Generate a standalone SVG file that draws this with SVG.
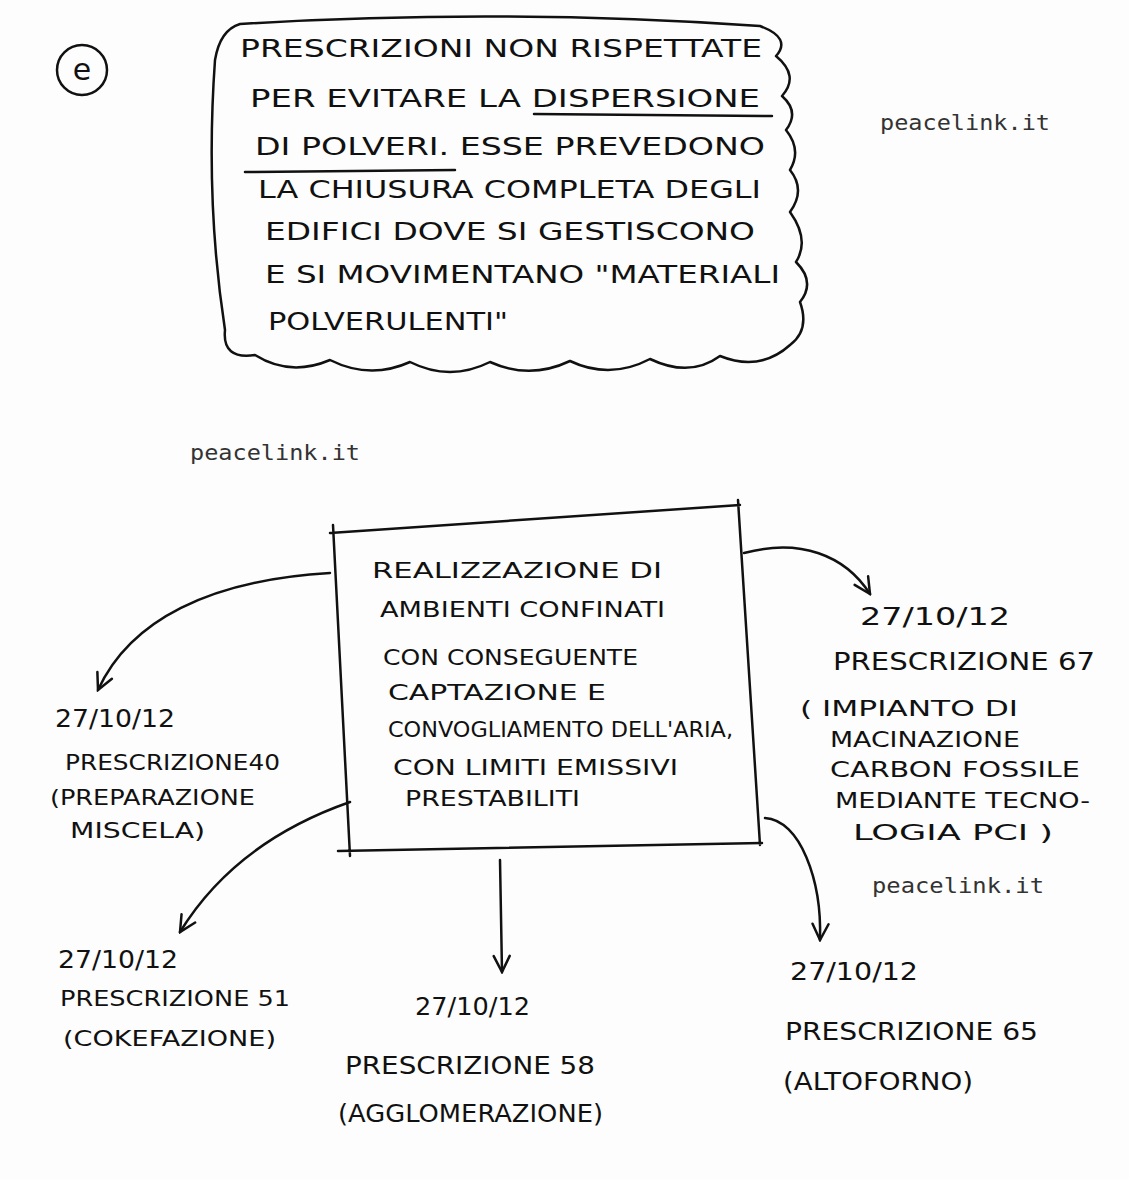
<svg xmlns="http://www.w3.org/2000/svg" width="1129" height="1179" viewBox="0 0 1129 1179">
<style>
.h{font-family:"DejaVu Sans","Liberation Sans",sans-serif;fill:#111;font-size:24px;}
.s{font-size:21px;}
.w{font-family:"DejaVu Sans Mono","Liberation Mono",monospace;font-size:21px;fill:#333;}
.ln{fill:none;stroke:#111;stroke-width:2.5;stroke-linecap:round;stroke-linejoin:round;}
</style>
<defs>
<marker id="v" viewBox="0 0 20 20" refX="18" refY="10" markerWidth="20" markerHeight="20" markerUnits="userSpaceOnUse" orient="auto">
<path d="M2,2 L18,10 L2,18" fill="none" stroke="#111" stroke-width="2.5" stroke-linecap="round"/>
</marker>
</defs>
<rect width="1129" height="1179" fill="#fdfdfd"/>
<g id="badge">
<circle cx="82" cy="70" r="25" class="ln"/>
<text x="82" y="80" text-anchor="middle" class="h" style="font-size:30px">e</text>
</g>
<g id="cloud">
<path class="ln" d="M240,24 Q500,8 760,26 Q792,38 776,56 Q800,76 782,96 Q800,112 786,130 Q802,150 790,170 Q806,190 790,212 Q810,240 796,262 Q816,282 800,302 Q810,330 790,345 Q760,372 720,356 Q690,378 650,359 Q610,380 570,361 Q530,380 490,362 Q450,382 410,362 Q370,380 330,360 Q290,377 255,355 Q222,360 225,330 Q205,200 215,60 Q220,30 240,24 Z"/>
<text class="h" x="240" y="57" textLength="522" lengthAdjust="spacingAndGlyphs">PRESCRIZIONI  NON  RISPETTATE</text>
<text class="h" x="250" y="107" textLength="510" lengthAdjust="spacingAndGlyphs">PER  EVITARE  LA  DISPERSIONE</text>
<text class="h" x="255" y="155" textLength="510" lengthAdjust="spacingAndGlyphs">DI  POLVERI.  ESSE  PREVEDONO</text>
<text class="h" x="258" y="198" textLength="503" lengthAdjust="spacingAndGlyphs">LA  CHIUSURA  COMPLETA  DEGLI</text>
<text class="h" x="265" y="240" textLength="490" lengthAdjust="spacingAndGlyphs">EDIFICI  DOVE  SI  GESTISCONO</text>
<text class="h" x="265" y="283" textLength="515" lengthAdjust="spacingAndGlyphs">E  SI  MOVIMENTANO "MATERIALI</text>
<text class="h" x="268" y="330" textLength="240" lengthAdjust="spacingAndGlyphs">POLVERULENTI"</text>
<path class="ln" d="M534,114 L772,116"/>
<path class="ln" d="M245,172 L455,170"/>
</g>
<text class="w" x="880" y="130" textLength="170" lengthAdjust="spacingAndGlyphs">peacelink.it</text>
<text class="w" x="190" y="460" textLength="170" lengthAdjust="spacingAndGlyphs">peacelink.it</text>
<text class="w" x="872" y="893" textLength="172" lengthAdjust="spacingAndGlyphs">peacelink.it</text>
<g id="center">
<path class="ln" d="M330,533 L740,505 M333,525 L350,856 M738,500 L760,845 M338,851 L762,843"/>
<text class="h s" x="372" y="578" textLength="290" lengthAdjust="spacingAndGlyphs">REALIZZAZIONE  DI</text>
<text class="h s" x="380" y="617" textLength="285" lengthAdjust="spacingAndGlyphs">AMBIENTI  CONFINATI</text>
<text class="h s" x="383" y="665" textLength="255" lengthAdjust="spacingAndGlyphs">CON CONSEGUENTE</text>
<text class="h s" x="388" y="700" textLength="218" lengthAdjust="spacingAndGlyphs">CAPTAZIONE  E</text>
<text class="h s" x="388" y="737" textLength="345" lengthAdjust="spacingAndGlyphs">CONVOGLIAMENTO DELL'ARIA,</text>
<text class="h s" x="393" y="775" textLength="285" lengthAdjust="spacingAndGlyphs">CON  LIMITI  EMISSIVI</text>
<text class="h s" x="405" y="806" textLength="175" lengthAdjust="spacingAndGlyphs">PRESTABILITI</text>
</g>
<g id="connectors">
<path class="ln" marker-end="url(#v)" d="M330,573 C210,580 130,620 98,690"/>
<path class="ln" marker-end="url(#v)" d="M350,802 C270,830 215,875 180,932"/>
<path class="ln" marker-end="url(#v)" d="M500,860 L502,972"/>
<path class="ln" marker-end="url(#v)" d="M744,553 C800,538 845,555 870,594"/>
<path class="ln" marker-end="url(#v)" d="M765,818 C800,820 822,880 820,940"/>
</g>
<g id="p40">
<text class="h" x="55" y="727" textLength="120" lengthAdjust="spacingAndGlyphs">27/10/12</text>
<text class="h s" x="65" y="770" textLength="215" lengthAdjust="spacingAndGlyphs">PRESCRIZIONE40</text>
<text class="h s" x="50" y="805" textLength="205" lengthAdjust="spacingAndGlyphs">(PREPARAZIONE</text>
<text class="h s" x="70" y="838" textLength="135" lengthAdjust="spacingAndGlyphs">MISCELA)</text>
</g>
<g id="p67">
<text class="h" x="860" y="625" textLength="150" lengthAdjust="spacingAndGlyphs">27/10/12</text>
<text class="h" x="833" y="670" textLength="262" lengthAdjust="spacingAndGlyphs">PRESCRIZIONE 67</text>
<text class="h s" x="800" y="716" textLength="218" lengthAdjust="spacingAndGlyphs">( IMPIANTO  DI</text>
<text class="h s" x="830" y="747" textLength="190" lengthAdjust="spacingAndGlyphs">MACINAZIONE</text>
<text class="h s" x="830" y="777" textLength="250" lengthAdjust="spacingAndGlyphs">CARBON  FOSSILE</text>
<text class="h s" x="835" y="808" textLength="255" lengthAdjust="spacingAndGlyphs">MEDIANTE  TECNO-</text>
<text class="h s" x="853" y="840" textLength="200" lengthAdjust="spacingAndGlyphs">LOGIA  PCI )</text>
</g>
<g id="p51">
<text class="h" x="58" y="968" textLength="120" lengthAdjust="spacingAndGlyphs">27/10/12</text>
<text class="h s" x="60" y="1006" textLength="230" lengthAdjust="spacingAndGlyphs">PRESCRIZIONE 51</text>
<text class="h s" x="63" y="1046" textLength="213" lengthAdjust="spacingAndGlyphs">(COKEFAZIONE)</text>
</g>
<g id="p58">
<text class="h" x="415" y="1015" textLength="115" lengthAdjust="spacingAndGlyphs">27/10/12</text>
<text class="h" x="345" y="1074" textLength="250" lengthAdjust="spacingAndGlyphs">PRESCRIZIONE 58</text>
<text class="h" x="338" y="1122" textLength="265" lengthAdjust="spacingAndGlyphs">(AGGLOMERAZIONE)</text>
</g>
<g id="p65">
<text class="h" x="790" y="980" textLength="128" lengthAdjust="spacingAndGlyphs">27/10/12</text>
<text class="h" x="785" y="1040" textLength="253" lengthAdjust="spacingAndGlyphs">PRESCRIZIONE 65</text>
<text class="h" x="783" y="1090" textLength="190" lengthAdjust="spacingAndGlyphs">(ALTOFORNO)</text>
</g>
</svg>
